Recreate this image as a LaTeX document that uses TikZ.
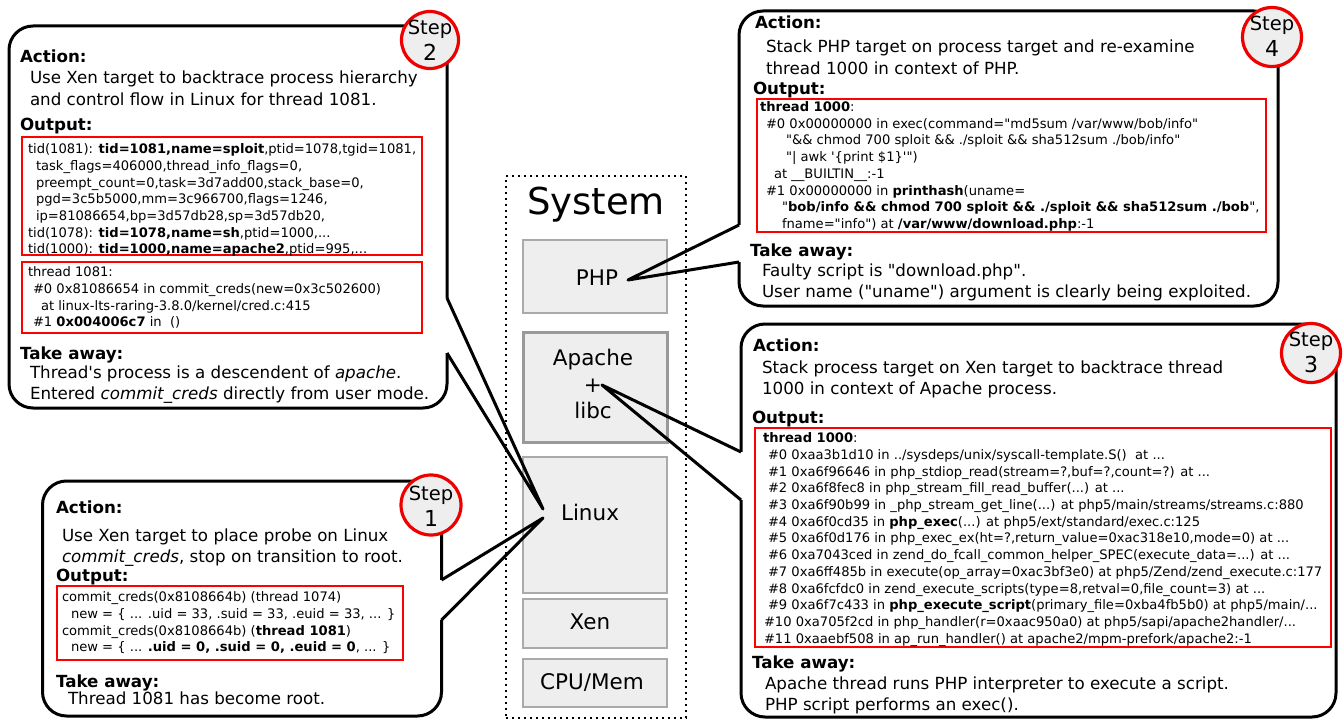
\documentclass[tikz,border=0pt]{standalone}
\usepackage{fontspec}
\newfontfamily\dv{DejaVu Sans}
\newcommand\fbody{\dv\fontsize{16.7}{21}\selectfont}
\newcommand\fout{\dv\fontsize{13.1}{16.7}\selectfont}
\newcommand\fstep{\dv\fontsize{19.5}{20}\selectfont}
\newcommand\fnum{\dv\fontsize{22}{24}\selectfont}
\newcommand\fcomp{\dv\fontsize{21.5}{26.5}\selectfont}
\newcommand\fsys{\dv\fontsize{37}{40}\selectfont}
\newcommand\lns[1]{\begin{tabular}[t]{@{}l@{}}#1\end{tabular}}
\newcommand\ind[1]{\hspace*{#1pt}}
\definecolor{boxgray}{HTML}{EEEEEE}
\definecolor{edgegray}{HTML}{AAAAAA}
\definecolor{edgedark}{HTML}{999999}
\definecolor{stepred}{HTML}{EE0000}
\tikzset{
 txt/.style={anchor=base west, inner sep=0pt, outer sep=0pt},
 hd/.style={txt, font=\fbody\bfseries},
 bd/.style={txt, font=\fbody},
 ot/.style={txt, font=\fout},
 callout/.style={draw=black, fill=white, line width=3pt, rounded corners=24pt, inner sep=0pt, outer sep=0pt},
 outbox/.style={draw=red, line width=1.5pt, inner sep=0pt, outer sep=0pt},
 stepc/.style={circle, draw=stepred, fill=boxgray, line width=3.2pt, inner sep=0pt},
 comp/.style={draw=edgegray, fill=boxgray, line width=2pt, inner sep=0pt, outer sep=0pt, minimum width=144pt},
 sysbox/.style={draw=black, line width=2pt, dash pattern=on 2pt off 4pt, inner sep=0pt},
 wedge/.style={draw=black, line width=3pt, line join=round},
 erase/.style={draw=white, line width=5pt},
 lbl/.style={inner sep=0pt},
}
\begin{document}
\begin{tikzpicture}[x=1pt,y=-1pt]
\useasboundingbox (0,0) rectangle (1344,725);
\fill[white] (0,0) rectangle (1344,725);

% ---------------- System column ----------------
\node[sysbox, minimum width=180pt, minimum height=542pt] (sys) at (596,447) {};
\node[lbl, font=\fsys] (systxt) at (596,205) {System};
\node[comp, minimum height=73pt] (php) at (595,276.5) {};
\node[comp, minimum height=110pt, draw=edgedark, line width=3pt] (apache) at (595,387) {};
\node[comp, minimum height=136pt] (linux) at (595,525) {};
\node[comp, minimum height=49pt] (xen) at (595,623.5) {};
\node[comp, minimum height=48pt] (cpu) at (595,683) {};
\node[lbl, font=\fcomp] (phpl) at (597,278) {PHP};
\node[lbl, font=\fcomp, align=center] (apachel) at (593,384) {Apache\\+\\libc};
\node[lbl, font=\fcomp] (linuxl) at (590,512) {Linux};
\node[lbl, font=\fcomp] (xenl) at (590,622) {Xen};
\node[lbl, font=\fcomp] (cpul) at (592,683) {CPU/Mem};

% ---------------- Callout boxes ----------------
\node[callout, minimum width=438pt, minimum height=382pt] (s2) at (228,217) {};
\node[callout, minimum width=399pt, minimum height=235pt] (s1) at (242,598.5) {};
\node[callout, minimum width=539pt, minimum height=295pt] (s4) at (1008.5,158.5) {};
\node[callout, minimum width=595pt, minimum height=393pt] (s3) at (1038.5,520.5) {};

% ---------------- Wedges ----------------
\coordinate (linuxtipA) at (543,509);
\coordinate (linuxtipB) at (543,518);
\coordinate (phptip) at (628,280);
\coordinate (apachetip) at (602,385);
\coordinate (s2a) at (447,298);
\coordinate (s2b) at (447,353);
\coordinate (s1a) at (441.5,580);
\coordinate (s1b) at (441.5,620);
\coordinate (s4a) at (739,225);
\coordinate (s4b) at (739,262);
\coordinate (s3a) at (741,452);
\coordinate (s3b) at (741,500);
\draw[erase] (s2a) -- (s2b);
\draw[erase] (s1a) -- (s1b);
\draw[erase] (s4a) -- (s4b);
\draw[erase] (s3a) -- (s3b);
\draw[wedge] (s2a) -- (linuxtipA) -- (s2b);
\draw[wedge] (s1a) -- (linuxtipB) -- (s1b);
\draw[wedge] (s4a) -- (phptip) -- (s4b);
\draw[wedge] (s3a) -- (apachetip) -- (s3b);

% ---------------- Step circles ----------------
\node[stepc, minimum size=57pt] (c2) at (430,40) {};
\node[lbl, font=\fstep] (c2t) at (430,29) {Step};
\node[lbl, font=\fnum] (c2n) at (430,52) {2};
\node[stepc, minimum size=60pt] (c1) at (431,505) {};
\node[lbl, font=\fstep] (c1t) at (431,495) {Step};
\node[lbl, font=\fnum] (c1n) at (431,518) {1};
\node[stepc, minimum size=59pt] (c4) at (1272,37) {};
\node[lbl, font=\fstep] (c4t) at (1272,25) {Step};
\node[lbl, font=\fnum] (c4n) at (1272,48) {4};
\node[stepc, minimum size=59pt] (c3) at (1311,353) {};
\node[lbl, font=\fstep] (c3t) at (1311,341) {Step};
\node[lbl, font=\fnum] (c3n) at (1311,364) {3};

% ---------------- Step 2 text ----------------
\node[hd] (s2act) at (20,63) {Action:};
\node[bd] (s2actt) at (30,84) {\lns{Use Xen target to backtrace process hierarchy\\and control flow in Linux for thread 1081.}};
\node[hd] (s2out) at (20,130) {Output:};
\node[outbox, minimum width=400pt, minimum height=118pt] (s2o1) at (222,196) {};
\node[ot] (s2o1t) at (28,153.7) {\lns{tid(1081): \textbf{tid=1081,name=sploit},ptid=1078,tgid=1081,\\
\ind{8}task\_flags=406000,thread\_info\_flags=0,\\
\ind{8}preempt\_count=0,task=3d7add00,stack\_base=0,\\
\ind{8}pgd=3c5b5000,mm=3c966700,flags=1246,\\
\ind{8}ip=81086654,bp=3d57db28,sp=3d57db20,\\
tid(1078): \textbf{tid=1078,name=sh},ptid=1000,...\\
tid(1000): \textbf{tid=1000,name=apache2},ptid=995,...}};
\node[outbox, minimum width=400pt, minimum height=71pt] (s2o2) at (222,297.5) {};
\node[ot] (s2o2t) at (28,276.7) {\lns{thread 1081:\\
\ind{5}\#0 0x81086654 in commit\_creds(new=0x3c502600)\\
\ind{13}at linux-lts-raring-3.8.0/kernel/cred.c:415\\
\ind{5}\#1 \textbf{0x004006c7} in\ \ ()}};
\node[hd] (s2ta) at (20,359) {Take away:};
\node[bd] (s2tat) at (30,378) {\lns{Thread's process is a descendent of \textit{apache}.\\Entered \textit{commit\_creds} directly from user mode.}};

% ---------------- Step 1 text ----------------
\node[hd] (s1act) at (56,513) {Action:};
\node[bd] (s1actt) at (62,541) {\lns{Use Xen target to place probe on Linux\\\textit{commit\_creds}, stop on transition to root.}};
\node[hd] (s1out) at (56,581) {Output:};
\node[outbox, minimum width=346pt, minimum height=74pt] (s1o) at (230,623) {};
\node[ot] (s1ot) at (62,601.7) {\lns{commit\_creds(0x8108664b) (thread 1074)\\
\ind{9}new = \{ ... .uid = 33, .suid = 33, .euid = 33, ... \}\\
commit\_creds(0x8108664b) (\textbf{thread 1081})\\
\ind{9}new = \{ ... \textbf{.uid = 0, .suid = 0, .euid = 0}, ... \}}};
\node[hd] (s1ta) at (56,687) {Take away:};
\node[bd] (s1tat) at (68,704) {Thread 1081 has become root.};

% ---------------- Step 4 text ----------------
\node[hd] (s4act) at (755,29) {Action:};
\node[bd] (s4actt) at (766,53) {\lns{Stack PHP target on process target and re-examine\\thread 1000 in context of PHP.}};
\node[hd] (s4out) at (753,94) {Output:};
\node[outbox, minimum width=509pt, minimum height=133pt] (s4o) at (1011.5,165.5) {};
\node[ot] (s4ot) at (760,111.5) {\lns{\textbf{thread 1000}:\\
\ind{6}\#0 0x00000000 in exec(command="md5sum /var/www/bob/info"\\
\ind{26}"\&\& chmod 700 sploit \&\& ./sploit \&\& sha512sum ./bob/info"\\
\ind{26}"| awk '\{print \$1\}'")\\
\ind{14}at \_\_BUILTIN\_\_:-1\\
\ind{6}\#1 0x00000000 in \textbf{printhash}(uname=\\
\ind{22}"\textbf{bob/info \&\& chmod 700 sploit \&\& ./sploit \&\& sha512sum ./bob}",\\
\ind{22}fname="info") at \textbf{/var/www/download.php}:-1}};
\node[hd] (s4ta) at (750,256) {Take away:};
\node[bd] (s4tat) at (762,276) {\lns{Faulty script is "download.php".\\User name ("uname") argument is clearly being exploited.}};

% ---------------- Step 3 text ----------------
\node[hd] (s3act) at (753,351) {Action:};
\node[bd] (s3actt) at (762,373) {\lns{Stack process target on Xen target to backtrace thread\\1000 in context of Apache process.}};
\node[hd] (s3out) at (752,423) {Output:};
\node[outbox, minimum width=576pt, minimum height=219pt] (s3o) at (1043,537.5) {};
\node[ot] (s3ot) at (763,442.7) {\lns{\textbf{thread 1000}:\\
\ind{5}\#0 0xaa3b1d10 in ../sysdeps/unix/syscall-template.S()\ \ at ...\\
\ind{5}\#1 0xa6f96646 in php\_stdiop\_read(stream=?,buf=?,count=?) at ...\\
\ind{5}\#2 0xa6f8fec8 in php\_stream\_fill\_read\_buffer(...) at ...\\
\ind{5}\#3 0xa6f90b99 in \_php\_stream\_get\_line(...) at php5/main/streams/streams.c:880\\
\ind{5}\#4 0xa6f0cd35 in \textbf{php\_exec}(...) at php5/ext/standard/exec.c:125\\
\ind{5}\#5 0xa6f0d176 in php\_exec\_ex(ht=?,return\_value=0xac318e10,mode=0) at ...\\
\ind{5}\#6 0xa7043ced in zend\_do\_fcall\_common\_helper\_SPEC(execute\_data=...) at ...\\
\ind{5}\#7 0xa6ff485b in execute(op\_array=0xac3bf3e0) at php5/Zend/zend\_execute.c:177\\
\ind{5}\#8 0xa6fcfdc0 in zend\_execute\_scripts(type=8,retval=0,file\_count=3) at ...\\
\ind{5}\#9 0xa6f7c433 in \textbf{php\_execute\_script}(primary\_file=0xba4fb5b0) at php5/main/...\\
\ind{1}\#10 0xa705f2cd in php\_handler(r=0xaac950a0) at php5/sapi/apache2handler/...\\
\ind{1}\#11 0xaaebf508 in ap\_run\_handler() at apache2/mpm-prefork/apache2:-1}};
\node[hd] (s3ta) at (752,668) {Take away:};
\node[bd] (s3tat) at (765,689) {\lns{Apache thread runs PHP interpreter to execute a script.\\PHP script performs an exec().}};
\end{tikzpicture}
\end{document}
